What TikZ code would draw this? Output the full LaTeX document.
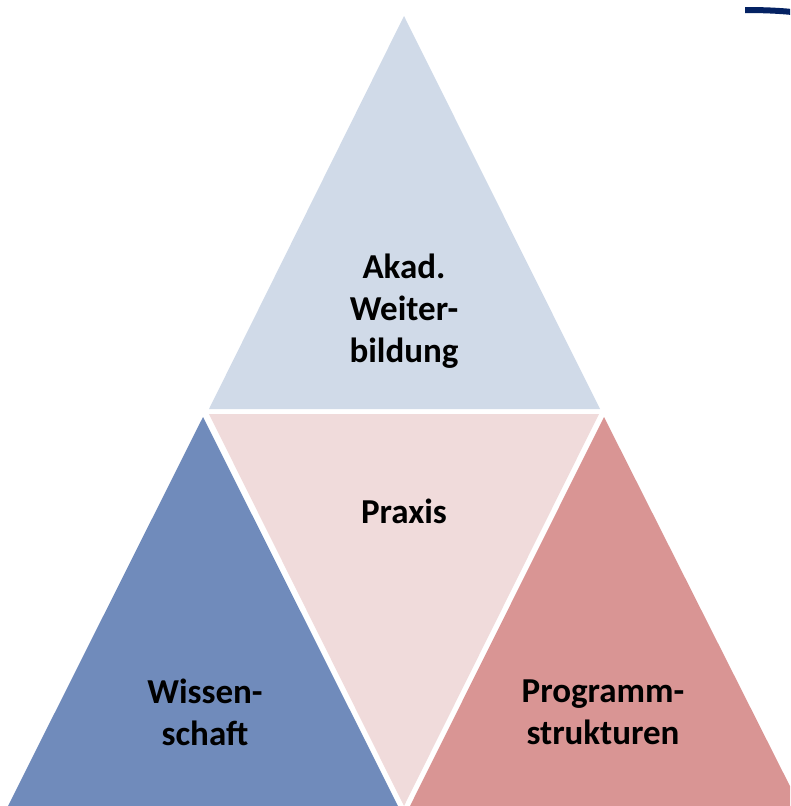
\documentclass[tikz,border=0pt]{standalone}
\usepackage{fontspec}
\setsansfont{Carlito}
\definecolor{topc}{HTML}{D0DAE8}
\definecolor{midc}{HTML}{F0DBDB}
\definecolor{leftc}{HTML}{708BBB}
\definecolor{rightc}{HTML}{D99594}
\definecolor{navy}{HTML}{042263}
\tikzset{
  lbl/.style={font=\sffamily\bfseries\fontsize{35}{42}\selectfont, align=center, text=black, inner sep=0pt}
}
\begin{document}
\begin{tikzpicture}[x=1pt,y=-1pt]
\useasboundingbox (0,0) rectangle (790,806);
\begin{scope}
\clip (0,0) rectangle (790,806);
\fill[topc] (404,16) -- (600,409) -- (209,409) -- cycle;
\fill[midc] (209,414) -- (599,414) -- (404,806) -- cycle;
\fill[leftc] (203,417) -- (398,806) -- (8,806) -- cycle;
\fill[rightc] (604,417) -- (800,806) -- (410,806) -- cycle;
\draw[navy, line width=6pt] (745,10) .. controls (765,10) and (780,10.8) .. (792,12);
\end{scope}
\node[lbl] (akad) at (404,311) {Akad.\\Weiter-\\bildung};
\node[lbl] (praxis) at (404,511) {Praxis};
\node[lbl] (wiss) at (205,712) {Wissen-\\schaft};
\node[lbl] (prog) at (603,712) {Programm-\\strukturen};
\end{tikzpicture}
\end{document}
